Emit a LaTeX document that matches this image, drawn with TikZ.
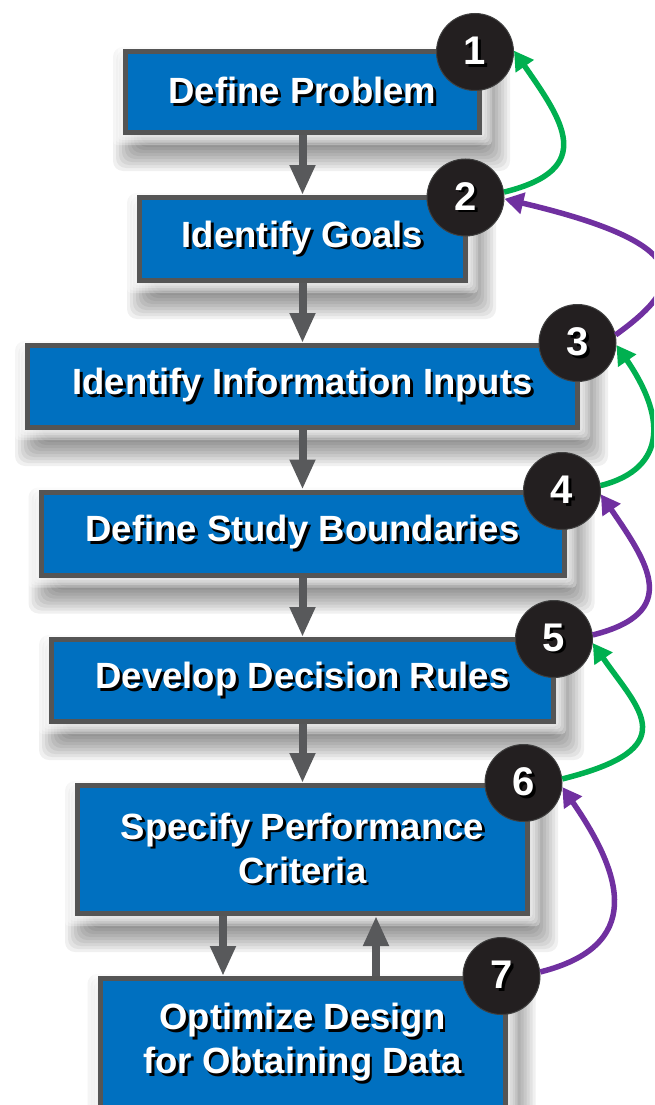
\documentclass[tikz,border=0pt]{standalone}
\usepackage{fontspec}
\setmainfont{Liberation Sans}
\usetikzlibrary{arrows.meta}
\definecolor{boxblue}{HTML}{0070C0}
\definecolor{edgegrey}{HTML}{555555}
\definecolor{flowgrey}{HTML}{58595B}
\definecolor{loopgreen}{HTML}{00B050}
\definecolor{looppurple}{HTML}{7030A0}
\definecolor{discblack}{HTML}{231F20}
\pgfdeclarelayer{shadowlayer}
\pgfsetlayers{shadowlayer,main}
\newcommand{\shd}[1]{\rlap{\kern2.8pt\raisebox{-2.8pt}{\color{black}#1}}#1}
\newcommand{\softshadow}[1]{%
  \foreach \e in {-8,-5,...,19}{%
    \fill[black,opacity=0.06,rounded corners=10pt]
      ([xshift={(9-\e)*1pt},yshift={(-17+\e)*1pt}]#1.north west) rectangle
      ([xshift={(9+\e)*1pt},yshift={(-17-\e)*1pt}]#1.south east);}%
  \foreach \e in {10,7.5,5,2.5}{%
    \fill[white,opacity=0.3,rounded corners=4pt]
      ([xshift={-\e*1pt},yshift={\e*1pt}]#1.north west) rectangle
      ([xshift={\e*1pt},yshift={-\e*1pt}]#1.south east);}%
}
\begin{document}
\begin{tikzpicture}[x=1pt,y=-1pt,
  stepbox/.style={draw=edgegrey, line width=5pt, fill=boxblue, text=white,
    font=\bfseries\fontsize{36.5}{44}\selectfont, align=center, inner sep=0pt},
  disc/.style={circle, fill=discblack, draw=black!75, line width=1pt, minimum size=77pt,
    inner sep=0pt, text=white, font=\bfseries\fontsize{40}{40}\selectfont},
  flow/.style={draw=flowgrey, line width=8pt, -{Triangle[width=24pt,length=30pt]}},
  loopg/.style={draw=loopgreen, line width=5.5pt, -{Triangle[width=21pt,length=19pt]}},
  loopp/.style={draw=looppurple, line width=5.5pt, -{Triangle[width=21pt,length=19pt]}}]
\useasboundingbox (0,0) rectangle (654,1105);
\clip (0,0) rectangle (654,1105);

\node[stepbox, minimum width=354pt, minimum height=81pt] (b1) at (302.5,92) {\shd{Define Problem}};
\node[stepbox, minimum width=326pt, minimum height=83pt] (b2) at (302.5,239) {\shd{Identify Goals}};
\node[stepbox, minimum width=550pt, minimum height=82pt] (b3) at (302.5,386.5) {\shd{Identify Information Inputs}};
\node[stepbox, minimum width=523pt, minimum height=83pt] (b4) at (302.5,533.5) {\shd{Define Study Boundaries}};
\node[stepbox, minimum width=502pt, minimum height=82pt] (b5) at (302.5,680.5) {\shd{Develop Decision Rules}};
\node[stepbox, minimum width=450pt, minimum height=128pt] (b6) at (302.5,849.5) {\shd{Specify Performance}\\\shd{Criteria}};
\node[stepbox, minimum width=405pt, minimum height=131pt] (b7) at (302.5,1044) {\shd{Optimize Design}\\\shd{for Obtaining Data}};

\begin{pgfonlayer}{shadowlayer}
  \softshadow{b1}
  \softshadow{b2}
  \softshadow{b3}
  \softshadow{b4}
  \softshadow{b5}
  \softshadow{b6}
  \softshadow{b7}
\end{pgfonlayer}

\draw[flow] (b1.south) -- (b2.north);
\draw[flow] (b2.south) -- (b3.north);
\draw[flow] (b3.south) -- (b4.north);
\draw[flow] (b4.south) -- (b5.north);
\draw[flow] (b5.south) -- (b6.north);
\draw[flow] ([xshift=-79.5pt]b6.south) -- ([xshift=-79.5pt]b7.north);
\draw[flow] ([xshift=73.5pt]b7.north) -- ([xshift=73.5pt]b6.south);

\node[disc] (c1) at (475,52) {\shd{1}};
\node[disc] (c2) at (465.5,197.5) {\shd{2}};
\node[disc] (c3) at (577.5,343) {\shd{3}};
\node[disc] (c4) at (562,491) {\shd{4}};
\node[disc] (c5) at (554,639) {\shd{5}};
\node[disc] (c6) at (523.5,783) {\shd{6}};
\node[disc] (c7) at (501.5,976) {\shd{7}};

\draw[loopg] (c2.8) .. controls (598,169) and (562,120) .. (c1.2);
\draw[loopp] (c3.12) .. controls (685,285) and (700,245) .. (c2.-2);
\draw[loopg] (c4.8) .. controls (669.5,468) and (664,414) .. (c3.-3);
\draw[loopp] (c5.6) .. controls (682,612.5) and (648,563) .. (c4.-5);
\draw[loopg] (c6.6) .. controls (686,748) and (639,710) .. (c5.-6);
\draw[loopp] (c7.6) .. controls (643,946) and (624.5,877) .. (c6.-6);
\end{tikzpicture}
\end{document}
